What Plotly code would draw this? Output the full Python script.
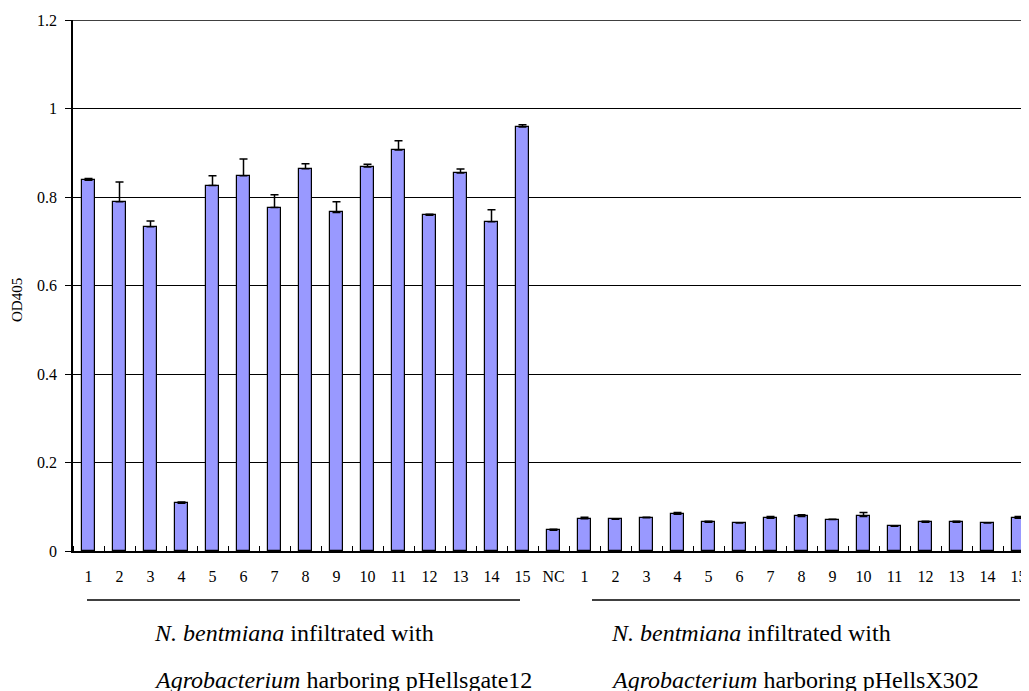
import plotly.graph_objects as go

# ---- data ----
labels = [str(i) for i in range(1, 16)] + ["NC"] + [str(i) for i in range(1, 16)]
od_mean = [0.838, 0.789, 0.733, 0.108, 0.826, 0.848, 0.776, 0.864, 0.765, 0.868,
           0.906, 0.759, 0.854, 0.744, 0.958,
           0.047,
           0.073, 0.072, 0.075, 0.083, 0.065, 0.063, 0.074, 0.078, 0.071, 0.078,
           0.056, 0.065, 0.065, 0.063, 0.074]
od_err = [0.004, 0.045, 0.013, 0.003, 0.022, 0.038, 0.029, 0.011, 0.024, 0.006,
          0.021, 0.002, 0.009, 0.027, 0.005,
          0.002,
          0.003, 0.001, 0.001, 0.004, 0.002, 0.001, 0.004, 0.004, 0.001, 0.009,
          0.001, 0.002, 0.002, 0.001, 0.004]
y_ticks = [0, 0.2, 0.4, 0.6, 0.8, 1.0, 1.2]
y_ticktext = ["0", "0.2", "0.4", "0.6", "0.8", "1", "1.2"]

n = len(labels)
xpos = list(range(n))
serif = "Liberation Serif, Times New Roman, serif"

fig = go.Figure()
fig.add_trace(go.Bar(
    x=xpos, y=od_mean, width=0.42,
    marker=dict(color="#9999FF", line=dict(color="black", width=1.2)),
    error_y=dict(type="data", symmetric=False, array=od_err,
                 arrayminus=[0] * n, color="black", thickness=1.5, width=4),
    showlegend=False,
))

# page body has an 8px margin; work in viewport pixels and subtract it
OFF = 8
VW, VH = 1029, 691
W, H = VW - OFF, VH - OFF
plot_left, plot_top, plot_bottom = 73, 20, 551
L = plot_left - OFF
T = plot_top - OFF
B = VH - plot_bottom
R = 0
pw = W - L - R
ph = H - T - B
cat_px = 31.0

def px_x(p):
    return (p - plot_left) / pw

def px_y(p):
    return (plot_bottom - p) / ph

fig.update_layout(
    width=W, height=H,
    margin=dict(l=L, r=R, t=T, b=B),
    paper_bgcolor="white", plot_bgcolor="white",
    font=dict(family=serif, color="black"),
    bargap=0,
    xaxis=dict(
        range=[-0.5, -0.5 + pw / cat_px],
        tickmode="array", tickvals=xpos, ticktext=labels,
        ticks="", showgrid=False, zeroline=False,
        showline=True, linecolor="black", linewidth=1.5,
        ticklabelstandoff=10,
        tickfont=dict(family=serif, size=16, color="black"),
        minor=dict(tickmode="array", tickvals=[i + 0.5 for i in range(-1, n)],
                   ticks="inside", ticklen=5, tickwidth=1, tickcolor="black",
                   showgrid=False),
    ),
    yaxis=dict(
        range=[0, 1.2],
        tickmode="array", tickvals=y_ticks, ticktext=y_ticktext,
        ticks="outside", ticklen=6, tickcolor="black", tickwidth=1,
        ticklabelstandoff=5,
        showgrid=True, gridcolor="black", gridwidth=1,
        zeroline=False, showline=True, linecolor="black", linewidth=1.5,
        tickfont=dict(family=serif, size=16, color="black"),
    ),
)

# top border at 1.2
fig.add_shape(type="line", xref="paper", yref="y", x0=0, x1=1, y0=1.2, y1=1.2,
              line=dict(color="black", width=1.5))

# group underlines
fig.add_shape(type="line", xref="paper", yref="paper",
              x0=px_x(87), x1=px_x(520), y0=px_y(600), y1=px_y(600),
              line=dict(color="black", width=1.5))
fig.add_shape(type="line", xref="paper", yref="paper",
              x0=px_x(592), x1=px_x(1020), y0=px_y(600), y1=px_y(600),
              line=dict(color="black", width=1.5))

txt_font = dict(family=serif, size=24, color="black")
for x0, line2 in [(152, "<i>Agrobacterium</i> harboring pHellsgate12"),
                  (609, "<i>Agrobacterium</i> harboring pHellsX302")]:
    fig.add_annotation(xref="paper", yref="paper", x=px_x(x0), y=px_y(633),
                       text="<i>N. bentmiana</i> infiltrated with",
                       showarrow=False, xanchor="left", yanchor="middle", font=txt_font)
    fig.add_annotation(xref="paper", yref="paper", x=px_x(x0), y=px_y(680),
                       text=line2,
                       showarrow=False, xanchor="left", yanchor="middle", font=txt_font)

# y-axis title
fig.add_annotation(xref="paper", yref="paper", x=px_x(17), y=px_y(300),
                   text="OD405", textangle=-90, showarrow=False,
                   xanchor="center", yanchor="middle",
                   font=dict(family=serif, size=15, color="black"))

fig.write_html("out.html")
